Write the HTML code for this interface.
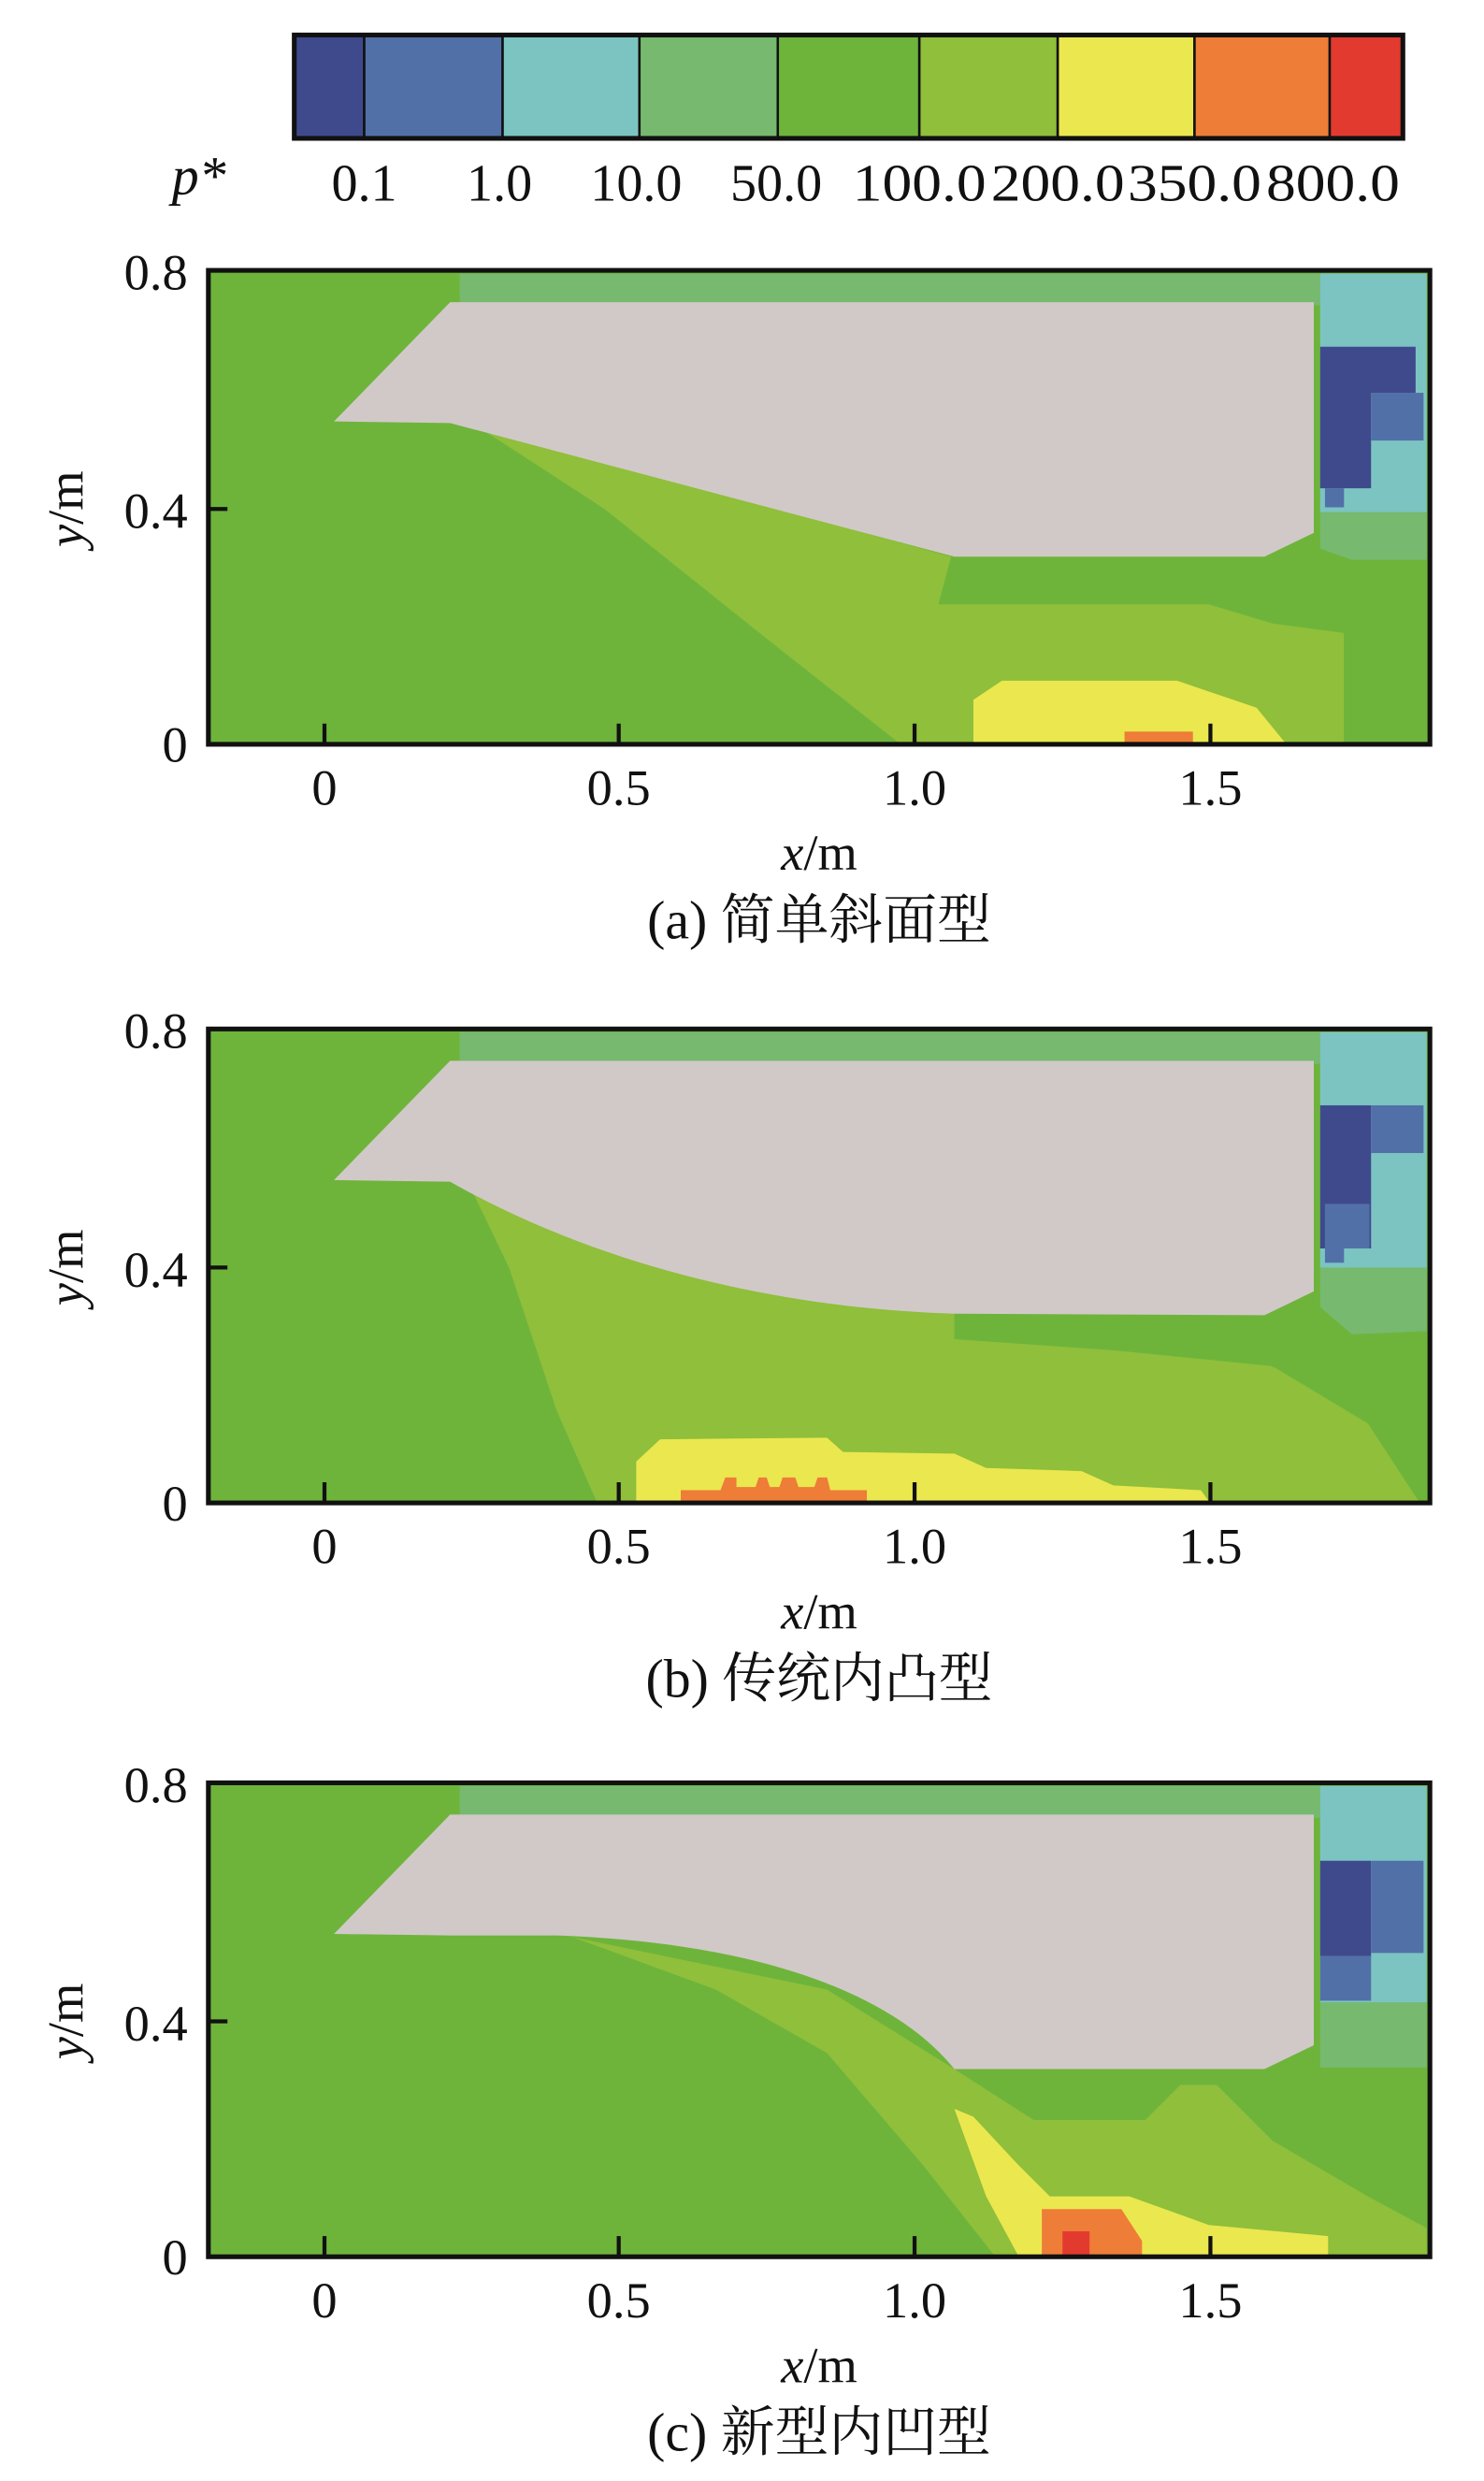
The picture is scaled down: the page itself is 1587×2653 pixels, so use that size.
<!DOCTYPE html>
<html><head><meta charset="utf-8"><style>
html,body{margin:0;padding:0;background:#fff;}
svg{display:block;}
text{font-family:"Liberation Serif","Noto Serif CJK SC",serif;fill:#111;}
</style></head><body>
<svg width="1587" height="2653" viewBox="0 0 933 1560" preserveAspectRatio="none" xmlns="http://www.w3.org/2000/svg">
<defs>
<g id="frame">
  <rect x="131" y="170" width="768" height="298" fill="none" stroke="#111" stroke-width="3"/>
  <g stroke="#111" stroke-width="2.5">
    <line x1="204" y1="467" x2="204" y2="455"/><line x1="389" y1="467" x2="389" y2="455"/>
    <line x1="575" y1="467" x2="575" y2="455"/><line x1="761" y1="467" x2="761" y2="455"/>
    <line x1="131" y1="320" x2="143" y2="320"/>
  </g>
  <g font-size="32" text-anchor="end">
    <text x="118" y="182">0.8</text><text x="118" y="332">0.4</text><text x="118" y="479">0</text>
  </g>
  <g font-size="32" text-anchor="middle">
    <text x="204" y="506">0</text><text x="389" y="506">0.5</text><text x="575" y="506">1.0</text><text x="761" y="506">1.5</text>
    <text x="515" y="547"><tspan font-style="italic">x</tspan>/m</text>
  </g>
  <text font-size="32" text-anchor="middle" transform="translate(52,320) rotate(-90)"><tspan font-style="italic">y</tspan>/m</text>
</g>
</defs>

<!-- colorbar -->
<g stroke="#111" stroke-width="1.5">
<rect x="185" y="22" width="44" height="65" fill="#3f4a8c"/>
<rect x="229" y="22" width="87" height="65" fill="#5270a8"/>
<rect x="316" y="22" width="86" height="65" fill="#7cc4c2"/>
<rect x="402" y="22" width="87" height="65" fill="#76b96f"/>
<rect x="489" y="22" width="89" height="65" fill="#6eb43b"/>
<rect x="578" y="22" width="87" height="65" fill="#8fbf3b"/>
<rect x="665" y="22" width="86" height="65" fill="#ebe74f"/>
<rect x="751" y="22" width="85" height="65" fill="#ee7d37"/>
<rect x="836" y="22" width="46" height="65" fill="#e33a2f"/>
</g>
<rect x="185" y="22" width="697" height="65" fill="none" stroke="#111" stroke-width="3"/>
<text x="108" y="122" font-size="34" font-style="italic">p*</text>
<g font-size="33" text-anchor="middle">
<text x="229" y="126">0.1</text><text x="314" y="126">1.0</text><text x="400" y="126">10.0</text><text x="488" y="126">50.0</text>
<text x="578" y="126" textLength="84" lengthAdjust="spacingAndGlyphs">100.0</text>
<text x="665" y="126" textLength="84" lengthAdjust="spacingAndGlyphs">200.0</text>
<text x="751" y="126" textLength="84" lengthAdjust="spacingAndGlyphs">350.0</text>
<text x="838" y="126" textLength="84" lengthAdjust="spacingAndGlyphs">800.0</text>
</g>

<!-- panel a -->
<g>
<rect x="131" y="170" width="768" height="298" fill="#6eb43b"/>
<rect x="289" y="172" width="541" height="20" fill="#76b96f"/>
<polygon points="300,268 598,350 590,380 760,380 800,392 845,398 845,467 565,467 480,400 380,320" fill="#8fbf3b"/>
<polygon points="600,350 800,350 830,340 897,335 897,467 845,467 845,398 800,380 600,378" fill="#6eb43b"/>
<polygon points="830,322 897,318 897,352 850,352 830,345" fill="#76b96f"/>
<rect x="830" y="172" width="67" height="150" fill="#7cc4c2"/>
<polygon points="830,218 890,218 890,247 862,247 862,307 830,307" fill="#3f4a8c"/>
<rect x="862" y="247" width="33" height="30" fill="#5270a8"/>
<rect x="833" y="307" width="12" height="12" fill="#5270a8"/>
<polygon points="612,467 612,440 630,428 740,428 790,445 808,467" fill="#ebe74f"/>
<rect x="707" y="460" width="43" height="7" fill="#ee7d37"/>
<polygon points="210,265 283,190 826,190 826,335 795,350 600,350 283,266" fill="#d1c9c8"/>
<use href="#frame"/>
<text x="515" y="590" font-size="34" text-anchor="middle">(a) 简单斜面型</text>
</g>

<!-- panel b -->
<g transform="translate(0,477)">
<rect x="131" y="170" width="768" height="298" fill="#6eb43b"/>
<rect x="289" y="172" width="541" height="20" fill="#76b96f"/>
<polygon points="295,268 600,349 620,362 760,368 830,393 880,428 892,467 375,467 350,410 320,320" fill="#8fbf3b"/>
<polygon points="600,349 800,349 897,343 897,467 892,467 860,418 800,382 700,372 600,365" fill="#6eb43b"/>
<polygon points="830,320 897,318 897,360 850,362 830,345" fill="#76b96f"/>
<rect x="830" y="172" width="67" height="148" fill="#7cc4c2"/>
<rect x="830" y="218" width="32" height="90" fill="#3f4a8c"/>
<rect x="862" y="218" width="33" height="30" fill="#5270a8"/>
<rect x="833" y="280" width="28" height="28" fill="#5270a8"/>
<rect x="833" y="305" width="12" height="12" fill="#5270a8"/>
<polygon points="400,467 400,442 415,428 520,427 530,436 600,437 620,446 680,448 700,457 755,460 760,467" fill="#ebe74f"/>
<polygon points="428,467 428,460 453,460 456,452 463,452 463,458 475,458 477,452 482,452 484,458 490,458 492,452 500,452 502,458 512,458 514,452 520,452 522,460 545,460 545,467" fill="#ee7d37"/>
<path d="M210,265 L283,190 L826,190 L826,335 L795,350 L600,349 C470,345 360,310 283,266 Z" fill="#d1c9c8"/>
<use href="#frame"/>
<text x="515" y="590" font-size="34" text-anchor="middle">(b) 传统内凸型</text>
</g>

<!-- panel c -->
<g transform="translate(0,951)">
<rect x="131" y="170" width="768" height="298" fill="#6eb43b"/>
<rect x="289" y="172" width="541" height="20" fill="#76b96f"/>
<polygon points="360,267 520,300 600,350 650,382 720,382 742,360 765,360 800,395 860,430 897,450 897,467 625,467 580,410 520,340 450,300" fill="#8fbf3b"/>
<polygon points="600,375 612,380 640,410 660,430 710,430 760,448 835,455 835,467 640,467 620,430" fill="#ebe74f"/>
<polygon points="655,467 655,438 705,438 718,458 718,467" fill="#ee7d37"/>
<rect x="668" y="452" width="17" height="15" fill="#e33a2f"/>
<polygon points="830,308 897,305 897,349 830,349" fill="#76b96f"/>
<rect x="830" y="172" width="67" height="136" fill="#7cc4c2"/>
<rect x="830" y="219" width="32" height="60" fill="#3f4a8c"/>
<rect x="862" y="219" width="33" height="58" fill="#5270a8"/>
<rect x="830" y="279" width="32" height="28" fill="#5270a8"/>
<path d="M210,265 L283,190 L826,190 L826,335 L795,350 L600,350 C560,300 470,270 350,266 L283,266 Z" fill="#d1c9c8"/>
<use href="#frame"/>
<text x="515" y="590" font-size="34" text-anchor="middle">(c) 新型内凹型</text>
</g>
</svg>
</body></html>
